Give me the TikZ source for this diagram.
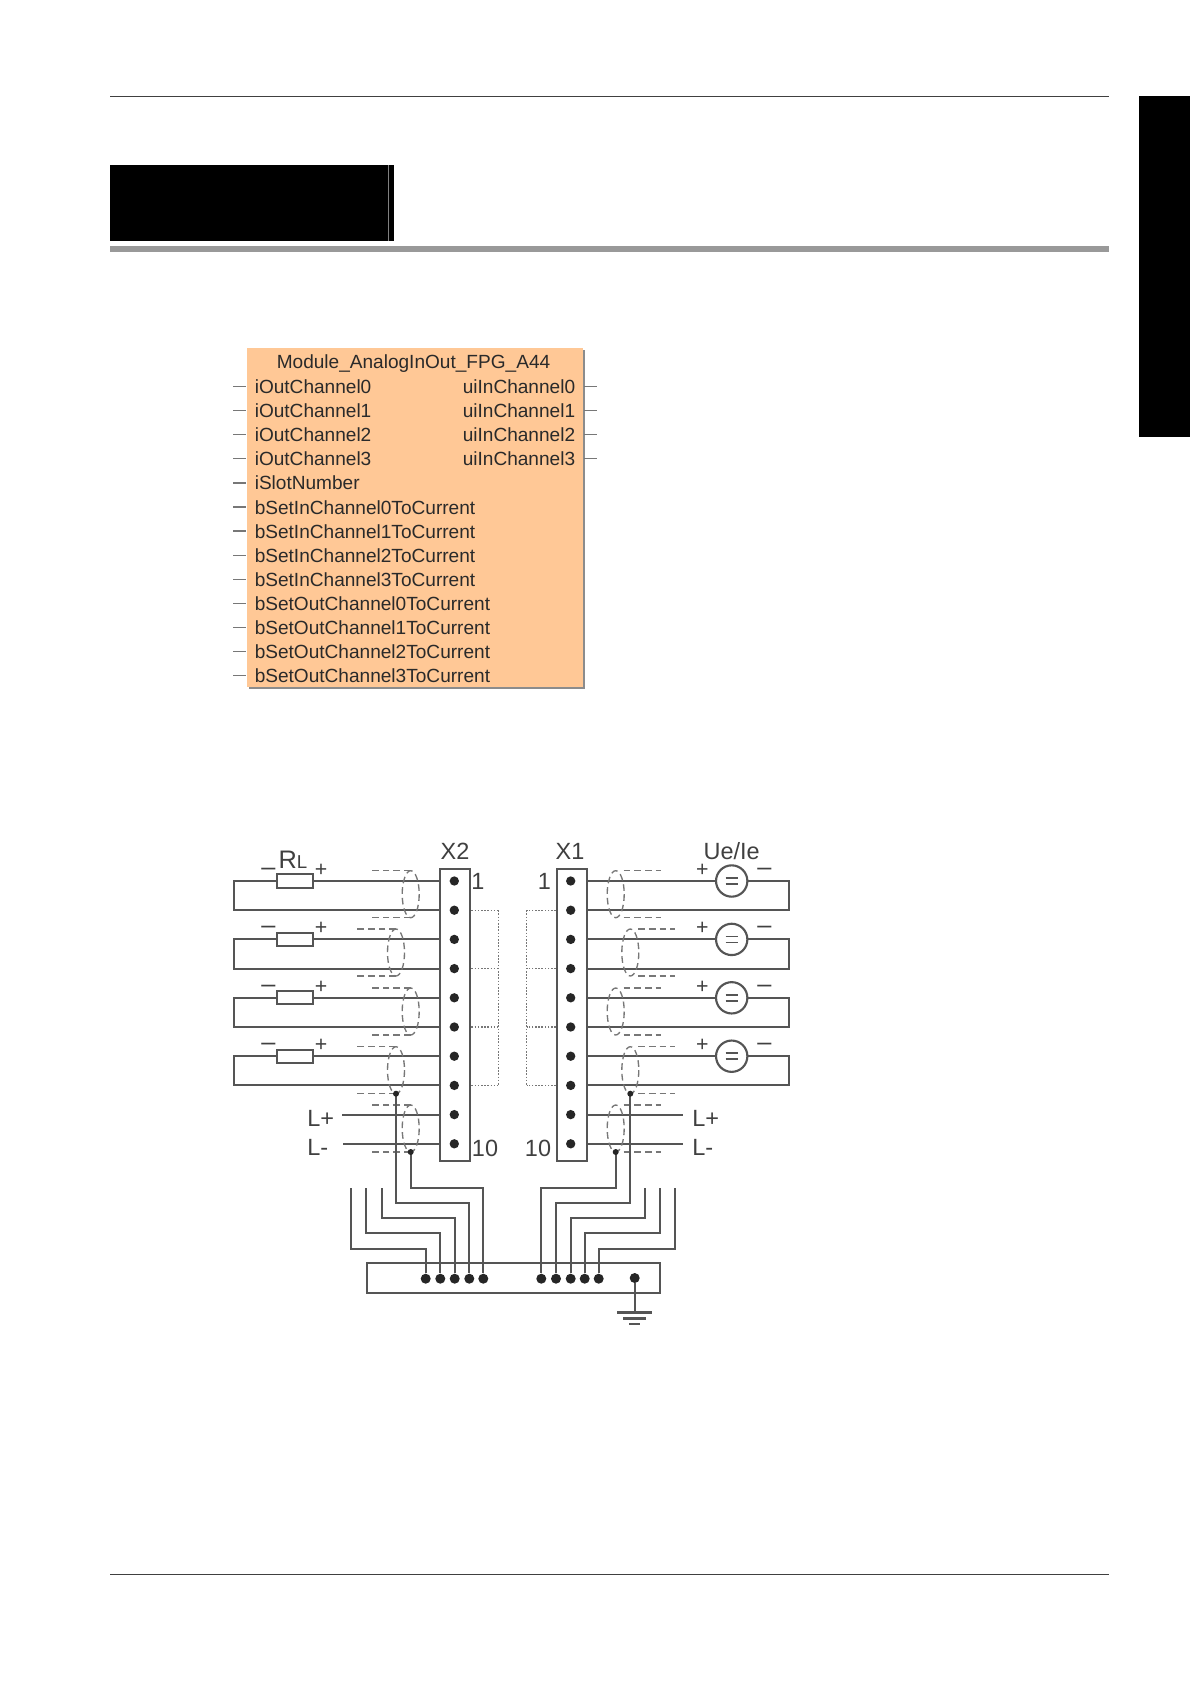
\documentclass[tikz,border=0pt]{standalone}
\usepackage{fontspec}
\setmainfont{Liberation Sans}
\definecolor{fbfill}{HTML}{FFC896}
\definecolor{wire}{HTML}{555555}
\definecolor{fbtext}{HTML}{2A2A2A}
\tikzset{
  wireline/.style={draw=wire,line width=1.6pt},
  thinwire/.style={draw=wire,line width=1.5pt},
  shieldline/.style={draw=wire!80,line width=1pt,dash pattern=on 5pt off 3pt},
  bridgeline/.style={draw=wire!80,line width=1pt,dash pattern=on 1.2pt off 1.2pt},
  connbox/.style={draw=wire,line width=1.6pt,fill=white,inner sep=0pt,minimum width=22.5pt,minimum height=219pt},
  termdot/.style={circle,fill=black!85,inner sep=0pt,minimum size=7pt},
  busdot/.style={circle,fill=black!85,inner sep=0pt,minimum size=7.5pt},
  resbox/.style={draw=wire,line width=1.5pt,fill=white,inner sep=0pt,minimum width=27pt,minimum height=10pt},
  srcnode/.style={circle,draw=wire,line width=1.6pt,fill=white,inner sep=0pt,minimum size=23.5pt},
  fbtxt/.style={font=\fontsize{14.3pt}{15pt}\selectfont,text=fbtext,anchor=base west,inner sep=0pt},
  pinstub/.style={draw=wire!80,line width=1pt},
  lab/.style={font=\fontsize{17.6pt}{18pt}\selectfont,text=black!75,inner sep=0pt},
  sign/.style={font=\fontsize{16pt}{16pt}\selectfont,text=black!75,inner sep=0pt},
  dashsign/.style={font=\fontsize{19pt}{16pt}\selectfont,text=black!75,inner sep=0pt},
}
\begin{document}
\begin{tikzpicture}[x=0.75pt,y=-0.75pt]
\useasboundingbox (0,0) rectangle (1190,1684);
\fill[white] (0,0) rectangle (1190,1684);
% page furniture
\draw[black!75,line width=0.75pt] (110,96.5) -- (1109,96.5);
\draw[black!75,line width=0.75pt] (110,1574) -- (1109,1574);
\fill[black] (1139,96) rectangle (1190,437);
\fill[black] (110,165) rectangle (394,241);
\fill[black!50] (387.6,165) rectangle (388.6,241);
\fill[black!40] (110,246) rectangle (1109,252);
% function block
\fill[black!45] (249,350) rectangle (584.5,688.5);
\node[fill=fbfill,inner sep=0pt,minimum width=252pt,minimum height=254pt,anchor=north west] (fb) at (247,348) {};
\node[font=\fontsize{14.3pt}{15pt}\selectfont,text=fbtext,inner sep=0pt] (fbtitle) at (413.5,364) {Module\_AnalogInOut\_FPG\_A44};
\foreach \t [count=\i from 0] in {iOutChannel0,iOutChannel1,iOutChannel2,iOutChannel3,iSlotNumber,bSetInChannel0ToCurrent,bSetInChannel1ToCurrent,bSetInChannel2ToCurrent,bSetInChannel3ToCurrent,bSetOutChannel0ToCurrent,bSetOutChannel1ToCurrent,bSetOutChannel2ToCurrent,bSetOutChannel3ToCurrent}{
  \node[fbtxt] (in\i) at (254.5,{393.5+24.1*\i}) {\t};
  \coordinate (inpin\i) at (233,{386.5+24.1*\i});
  \draw[pinstub] (inpin\i) -- ++(13,0);
}
\foreach \t [count=\i from 0] in {uiInChannel0,uiInChannel1,uiInChannel2,uiInChannel3}{
  \node[fbtxt] (out\i) at (462.5,{393.5+24.1*\i}) {\t};
  \coordinate (outpin\i) at (584,{386.5+24.1*\i});
  \draw[pinstub] (outpin\i) -- ++(13,0);
}
% connectors
\node[connbox,anchor=north west] (xtwo) at (439.3,867.7) {};
\node[connbox,anchor=north west] (xone) at (555.7,867.7) {};
\foreach \i in {1,...,10}{
  \node[termdot] (xtwot\i) at (454.3,{881+29.2*(\i-1)}) {};
  \node[termdot] (xonet\i) at (570.7,{881+29.2*(\i-1)}) {};
}
\node[lab] (xtwolab) at (455,851) {X2};
\node[lab] (xonelab) at (570,851) {X1};
\node[lab] (ue) at (731.7,851) {Ue/Ie};
\node[lab] (no1l) at (478,881) {1};
\node[lab] (no10l) at (485,1148) {10};
\node[lab] (no1r) at (544.3,881) {1};
\node[lab] (no10r) at (538,1148) {10};
\node[lab,anchor=base,font=\fontsize{19pt}{19pt}\selectfont] (rl) at (293,868.5) {R{\fontsize{14pt}{14pt}\selectfont L}};
% load and source loops
\foreach \i/\a/\b in {1/1/2,2/3/4,3/5/6,4/7/8}{
  \coordinate (la\i) at (xtwot\a -| xtwo.west);
  \coordinate (lb\i) at (xtwot\b -| xtwo.west);
  \coordinate (ra\i) at (xonet\a -| xone.east);
  \coordinate (rb\i) at (xonet\b -| xone.east);
  \node[resbox] (res\i) at (xtwot\a -| 294.7,0) {};
  \node[srcnode] (src\i) at (xonet\a -| 731.7,0) {};
  \draw[wireline] (la\i) -- (res\i.east);
  \draw[wireline] (res\i.west) -- (res\i.west -| 234,0) |- (lb\i);
  \draw[wireline] (ra\i) -- (src\i.west);
  \draw[wireline] (src\i.east) -- (src\i.east -| 789.3,0) |- (rb\i);
  \draw[wire,line width=1.2pt] ([xshift=-4.5pt,yshift=2.2pt]src\i.center) -- ([xshift=4.5pt,yshift=2.2pt]src\i.center);
  \draw[wire,line width=1.2pt] ([xshift=-4.5pt,yshift=-2.2pt]src\i.center) -- ([xshift=4.5pt,yshift=-2.2pt]src\i.center);
  \node[dashsign] (lm\i) at ([xshift=-5.5pt,yshift=7pt]res\i.west) {--};
  \node[sign] (lp\i) at ([xshift=5.5pt,yshift=8pt]res\i.east) {+};
  \node[sign] (rp\i) at ([xshift=-22pt,yshift=8pt]src\i.center) {+};
  \node[dashsign] (rm\i) at ([xshift=24.5pt,yshift=7pt]src\i.center) {--};
}
% bridges
\foreach \i in {2,4,6,8}{
  \draw[bridgeline] (xtwot\i -| xtwo.east) -- (xtwot\i -| 498.3,0);
  \draw[bridgeline] (xonet\i -| xone.west) -- (xonet\i -| 526.7,0);
}
\draw[bridgeline] (xtwot2 -| 498.3,0) -- (xtwot8 -| 498.3,0);
\draw[bridgeline] (xonet2 -| 526.7,0) -- (xonet8 -| 526.7,0);
% supply
\node[lab,anchor=west] (lpl) at (307,1118) {L+};
\node[lab,anchor=west] (lml) at (307,1147) {L-};
\node[lab,anchor=west] (lpr) at (692,1118) {L+};
\node[lab,anchor=west] (lmr) at (692,1147) {L-};
\draw[thinwire] (xtwot9 -| xtwo.west) -- (xtwot9 -| 341.7,0);
\draw[thinwire] (xtwot10 -| xtwo.west) -- (xtwot10 -| 343,0);
\draw[thinwire] (xonet9 -| xone.east) -- (xonet9 -| 683.3,0);
\draw[thinwire] (xonet10 -| xone.east) -- (xonet10 -| 683.3,0);
% bus bar
\node[draw=wire,line width=1.5pt,inner sep=0pt,minimum width=220pt,minimum height=22pt,anchor=north west] (bus) at (365.7,1262.3) {};
\foreach \n/\x in {a/425.7,b/440.3,c/454.7,d/469.3,e/483.3,f/541.3,g/556,h/570.7,i/584.7,j/598.7}{
  \node[busdot] (d\n) at (\x,1278.7) {};
}
\node[busdot] (dgnd) at (634.7,1278) {};
% shields
\foreach \n/\x/\t in {la/410.7/870.7,lb/396/929,lc/410.7/988,ld/396/1046.7,le/410.7/1105,ra/615.7/870.7,rb/630.3/929,rc/615.7/988,rd/630.3/1046.7,re/615.7/1105}{
  \draw[shieldline] (\x,\t+23.5) ellipse [x radius=8.5,y radius=23.5];
  \coordinate (sh\n t) at (\x,\t);
  \coordinate (sh\n b) at (\x,\t+47);
}
\foreach \n in {la,lb,lc,ld,le}{
  \draw[shieldline] (sh\n t) -- ++(-42,0);
  \draw[shieldline] (sh\n b) -- ++(-42,0);
}
\foreach \n in {ra,rb,rc,rd,re}{
  \draw[shieldline] (sh\n t) ++(8,0) -- ++(37,0);
  \draw[shieldline] (sh\n b) ++(8,0) -- ++(37,0);
}
% shield drains to bus
\draw[wireline] (shldb) -- (shldb |- 0,1202.7) -| (dd);
\draw[wireline] (shleb) -- (shleb |- 0,1188.3) -| (de);
\draw[wireline] (shrdb) -- (shrdb |- 0,1202.7) -| (dg);
\draw[wireline] (shreb) -- (shreb |- 0,1188.3) -| (df);
\fill[black!85] (shldb) circle (3);
\fill[black!85] (shleb) circle (3);
\fill[black!85] (shrdb) circle (3);
\fill[black!85] (shreb) circle (3);
\coordinate (sa) at (351.3,1188);
\coordinate (sb) at (365.7,1188);
\coordinate (sc) at (381.7,1188);
\coordinate (sh) at (645,1188);
\coordinate (si) at (660,1188);
\coordinate (sj) at (674.7,1188);
\draw[wireline] (sa) |- (da.north |- 0,1249) -- (da);
\draw[wireline] (sb) |- (db.north |- 0,1233.3) -- (db);
\draw[wireline] (sc) |- (dc.north |- 0,1218.3) -- (dc);
\draw[wireline] (sh) |- (dh.north |- 0,1218.3) -- (dh);
\draw[wireline] (si) |- (di.north |- 0,1233.3) -- (di);
\draw[wireline] (sj) |- (dj.north |- 0,1249) -- (dj);
% earth
\coordinate (gnd) at (634.7,1312.7);
\draw[thinwire] (dgnd) -- (gnd);
\draw[draw=wire,line width=2pt] (gnd) ++(-17.5,0) -- ++(35,0);
\draw[draw=wire,line width=2pt] (gnd) ++(-11.5,5.6) -- ++(23,0);
\draw[draw=wire,line width=2.2pt] (gnd) ++(-5.5,11.3) -- ++(11,0);
\end{tikzpicture}
\end{document}
